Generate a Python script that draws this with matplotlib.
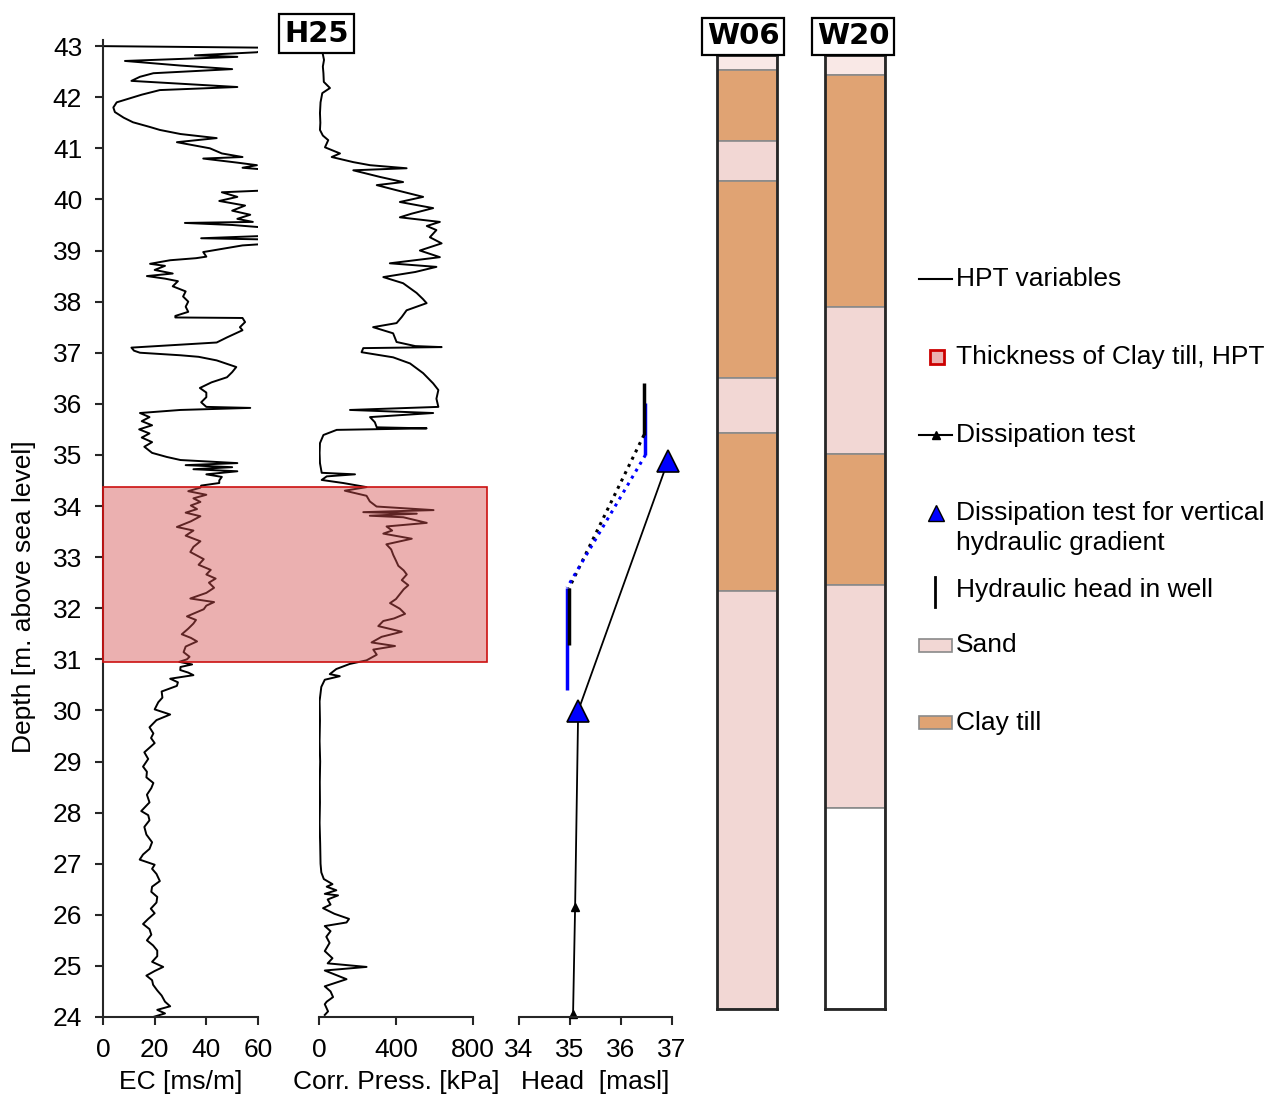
import matplotlib
matplotlib.use('Agg')
import matplotlib.pyplot as plt
from matplotlib.patches import Rectangle
import matplotlib.transforms as mtrans

plt.rcParams['font.family'] = ['Liberation Sans', 'DejaVu Sans']

# ---------------- data ----------------
ec_depth = [43.00, 42.97, 42.92, 42.88, 42.82, 42.79, 42.71, 42.62, 42.55, 42.47, 42.40, 42.32,
            42.20, 42.14, 42.05, 41.90, 41.80, 41.71, 41.60, 41.51, 41.42, 41.36, 41.28, 41.20,
            41.12, 41.00, 40.90, 40.83, 40.80, 40.72, 40.67, 40.62, 40.57, 40.45, 40.30, 40.18,
            40.14, 40.05, 39.97, 39.88, 39.78, 39.70, 39.62, 39.56, 39.54, 39.50, 39.46, 39.42,
            39.30, 39.24, 39.21, 39.14, 39.10, 38.97, 38.88, 38.85, 38.81, 38.74, 38.70, 38.62,
            38.55, 38.50, 38.45, 38.40, 38.30, 38.20, 38.10, 38.00, 37.90, 37.80, 37.72, 37.69,
            37.68, 37.60, 37.50, 37.44, 37.30, 37.20, 37.10, 37.04, 37.00, 36.95, 36.92, 36.85,
            36.72, 36.62, 36.52, 36.42, 36.31, 36.22, 36.13, 36.03, 35.94, 35.92, 35.88, 35.82,
            35.74, 35.66, 35.58, 35.50, 35.42, 35.34, 35.25, 35.16, 35.08, 35.04, 34.96, 34.90,
            34.84, 34.80, 34.76, 34.72, 34.68, 34.62, 34.57, 34.50, 34.45, 34.40, 34.36, 34.29,
            34.22, 34.15, 34.08, 34.01, 33.94, 33.87, 33.80, 33.70, 33.59, 33.52, 33.42, 33.31,
            33.20, 33.10, 32.96, 32.85, 32.75, 32.66, 32.58, 32.50, 32.40, 32.30, 32.19, 32.12,
            32.05, 31.98, 31.84, 31.77, 31.70, 31.60, 31.49, 31.42, 31.35, 31.25, 31.14, 31.05,
            31.00, 30.95, 30.90, 30.85, 30.79, 30.74, 30.69, 30.62, 30.55, 30.48, 30.37, 30.25,
            30.16, 30.02, 29.92, 29.81, 29.67, 29.55, 29.46, 29.36, 29.18, 29.05, 28.90, 28.80,
            28.69, 28.58, 28.48, 28.35, 28.20, 28.03, 27.95, 27.85, 27.72, 27.57, 27.42, 27.29,
            27.18, 27.08, 26.98, 26.90, 26.80, 26.66, 26.55, 26.45, 26.35, 26.24, 26.12, 26.03,
            25.92, 25.82, 25.72, 25.61, 25.50, 25.40, 25.30, 25.19, 25.08, 24.98, 24.90, 24.81,
            24.72, 24.63, 24.52, 24.42, 24.30, 24.21, 24.14, 24.07, 24.00]
ec_value = [0.0, 62.0, 62.0, 59.6, 35.6, 52.0, 8.5, 30.0, 50.0, 19.5, 14.3, 11.0,
            52.0, 22.0, 15.0, 5.3, 4.0, 4.6, 8.0, 11.6, 18.0, 22.0, 30.0, 44.0,
            28.6, 41.4, 46.0, 54.0, 38.8, 52.0, 59.6, 54.0, 66.0, 70.0, 68.0, 65.0,
            46.0, 52.0, 45.0, 55.0, 50.0, 57.0, 52.0, 58.0, 31.7, 50.0, 60.0, 70.0,
            70.0, 38.0, 70.0, 66.0, 54.0, 38.8, 40.0, 36.0, 26.0, 18.2, 24.0, 20.0,
            27.0, 17.0, 24.0, 29.0, 27.0, 32.0, 31.0, 33.0, 32.0, 33.0, 28.0, 28.0,
            54.0, 55.0, 53.0, 54.0, 48.0, 44.0, 11.0, 12.0, 14.3, 30.0, 37.0, 44.0,
            51.6, 50.0, 48.0, 42.0, 37.5, 40.0, 40.0, 38.0, 40.0, 57.0, 30.0, 14.3,
            18.0, 15.0, 19.0, 14.0, 18.0, 15.0, 19.0, 16.0, 18.0, 19.0, 24.7, 30.0,
            52.0, 32.0, 50.0, 35.0, 52.0, 40.0, 46.0, 45.0, 45.0, 38.0, 37.7, 33.0,
            40.0, 35.0, 37.7, 34.0, 36.4, 32.0, 37.7, 34.0, 28.6, 35.0, 32.0, 37.7,
            35.0, 33.8, 39.0, 37.0, 41.7, 40.0, 43.6, 41.0, 43.0, 40.0, 33.8, 43.0,
            40.0, 39.0, 32.5, 36.0, 35.0, 33.0, 30.5, 34.0, 36.4, 32.0, 31.2, 33.5,
            32.5, 29.5, 34.5, 30.0, 29.9, 33.0, 35.0, 26.0, 29.0, 28.6, 22.7, 23.0,
            21.4, 20.0, 26.0, 20.7, 18.0, 19.5, 18.6, 20.0, 16.0, 17.5, 15.5, 17.0,
            16.8, 19.5, 18.7, 17.0, 18.0, 14.8, 17.5, 18.0, 16.0, 16.8, 19.0, 18.0,
            15.5, 14.2, 20.0, 19.0, 20.7, 22.0, 19.0, 18.7, 21.0, 20.7, 18.5, 20.0,
            17.5, 15.5, 18.0, 18.7, 17.0, 19.4, 21.0, 21.0, 19.0, 23.3, 20.0, 16.8,
            19.0, 19.4, 21.0, 22.7, 24.0, 26.0, 21.0, 24.0, 19.4]

pr_depth = [42.86, 42.73, 42.60, 42.47, 42.30, 42.18, 42.08, 41.90, 41.69, 41.50, 41.36, 41.25,
            41.16, 41.02, 40.90, 40.83, 40.73, 40.67, 40.61, 40.57, 40.44, 40.34, 40.28, 40.18,
            40.05, 39.95, 39.83, 39.72, 39.65, 39.56, 39.48, 39.40, 39.26, 39.14, 39.00, 38.87,
            38.75, 38.68, 38.58, 38.48, 38.36, 38.17, 38.05, 37.97, 37.83, 37.70, 37.58, 37.50,
            37.38, 37.21, 37.13, 37.11, 37.09, 37.01, 36.91, 36.79, 36.60, 36.40, 36.27, 36.10,
            35.94, 35.88, 35.82, 35.74, 35.64, 35.54, 35.52, 35.49, 35.39, 35.23, 35.04, 34.84,
            34.65, 34.62, 34.58, 34.51, 34.45, 34.37, 34.30, 34.20, 34.09, 33.99, 33.92, 33.88,
            33.85, 33.81, 33.78, 33.67, 33.60, 33.52, 33.46, 33.36, 33.25, 33.15, 33.04, 32.93,
            32.83, 32.74, 32.66, 32.55, 32.45, 32.37, 32.28, 32.18, 32.10, 31.99, 31.89, 31.80,
            31.75, 31.65, 31.54, 31.44, 31.33, 31.26, 31.19, 31.09, 30.98, 30.91, 30.81, 30.71,
            30.67, 30.60, 30.46, 30.18, 29.80, 29.40, 29.00, 28.60, 28.20, 27.80, 27.40, 27.00,
            26.83, 26.70, 26.60, 26.55, 26.48, 26.41, 26.38, 26.30, 26.20, 26.13, 26.02, 25.92,
            25.85, 25.78, 25.68, 25.57, 25.45, 25.29, 25.15, 25.05, 24.98, 24.91, 24.82, 24.74,
            24.60, 24.50, 24.39, 24.30, 24.25, 24.11, 24.04]
pr_value = [19, 26, 20, 23, 25, 57, 17, 8, 5, 7, 5, 20,
            48, 31, 109, 66, 178, 265, 455, 178, 317, 437, 300, 403,
            541, 420, 593, 480, 420, 628, 560, 610, 576, 637, 524, 628,
            368, 610, 500, 334, 437, 507, 540, 559, 455, 430, 403, 281,
            385, 403, 500, 637, 230, 221, 385, 473, 541, 593, 620, 610,
            620, 161, 593, 265, 290, 300, 559, 92, 23, 5, 3, 5,
            14, 187, 40, 14, 126, 247, 134, 247, 264, 299, 595, 230,
            508, 264, 438, 560, 351, 380, 334, 482, 350, 375, 386, 400,
            412, 440, 456, 430, 464, 440, 421, 400, 369, 420, 447, 390,
            334, 308, 430, 325, 273, 395, 282, 300, 247, 160, 90, 56,
            108, 30, 12, 3, 5, 3, 6, 4, 5, 3, 6, 8,
            12, 25, 70, 40, 90, 30, 99, 45, 60, 21, 80, 156,
            143, 30, 60, 38, 55, 30, 70, 45, 247, 30, 90, 143,
            30, 60, 73, 40, 30, 47, 30]

diss_head = [35.06, 35.10, 35.16, 36.92]
diss_depth = [24.06, 26.15, 29.99, 34.88]
well_head_black = [34.98, 36.45]
well_top_black = [32.39, 36.40]
well_bot_black = [31.28, 35.39]
well_head_blue = [34.94, 36.48]
well_top_blue = [32.40, 36.01]
well_bot_blue = [30.40, 35.00]

clay_hpt_top = 34.37
clay_hpt_bottom = 30.95

w06_bounds = [42.82, 42.53, 41.14, 40.36, 36.50, 35.43, 32.33, 24.15]
w06_types = ['top', 'clay', 'sand', 'clay', 'sand', 'clay', 'sand']
w20_bounds = [42.82, 42.43, 37.89, 35.02, 32.45, 28.09, 24.15]
w20_types = ['top', 'clay', 'sand', 'clay', 'sand', 'none']

ec_ticks = [0, 20, 40, 60]
pr_ticks = [0, 400, 800]
hd_ticks = [34, 35, 36, 37]
depth_ticks = list(range(24, 44))

layer_colors = {'top': '#f9e8e6', 'clay': '#e0a373', 'sand': '#f2d7d4', 'none': 'white'}
box_face = (211/255, 80/255, 80/255, 0.45)

# ---------------- figure ----------------
W, H = 1284, 1102
fig = plt.figure(figsize=(W / 100, H / 100), dpi=100)
FS = 19


def rect(x0, x1, ytop=40, ybot=1017):
    return [x0 / W, 1 - ybot / H, (x1 - x0) / W, (ybot - ytop) / H]


ax_ec = fig.add_axes(rect(103, 258))
ax_pr = fig.add_axes(rect(319, 473))
ax_hd = fig.add_axes(rect(519, 672))

for ax in (ax_ec, ax_pr, ax_hd):
    ax.set_ylim(24, 43.12)
    ax.set_facecolor('none')
    for s in ('top', 'right'):
        ax.spines[s].set_visible(False)
    for s in ('left', 'bottom'):
        ax.spines[s].set_linewidth(1.5)
        ax.spines[s].set_color('#262626')
    ax.tick_params(axis='both', direction='out', length=6, width=1.5, color='#262626',
                   labelsize=FS, pad=9)
for ax in (ax_pr, ax_hd):
    ax.spines['left'].set_visible(False)
    ax.tick_params(axis='y', left=False, labelleft=False)

ax_ec.plot(ec_value, ec_depth, color='black', lw=1.4)
ax_ec.set_xlim(0, 60)
ax_ec.set_xticks(ec_ticks)
ax_ec.set_yticks(depth_ticks)
ax_ec.set_xlabel('EC [ms/m]', fontsize=FS, labelpad=6)
ax_ec.set_ylabel('Depth [m. above sea level]', fontsize=FS)
ax_ec.yaxis.set_label_coords(-0.43, 0.43)

ax_pr.plot(pr_value, pr_depth, color='black', lw=1.4)
ax_pr.set_xlim(0, 800)
ax_pr.set_xticks(pr_ticks)
ax_pr.set_xlabel('Corr. Press. [kPa]', fontsize=FS, labelpad=6)

# head panel
ax_hd.set_xlim(34, 37)
ax_hd.set_xticks(hd_ticks)
ax_hd.set_xlabel('Head  [masl]', fontsize=FS, labelpad=6)
ax_hd.plot(diss_head, diss_depth, color='black', lw=1.3, clip_on=False)
ax_hd.plot(diss_head[:2], diss_depth[:2], ls='none', marker='^', ms=6, color='black', clip_on=False)
ax_hd.plot(diss_head[2:], diss_depth[2:], ls='none', marker='^', ms=16, mfc='#0000ff',
           mec='black', mew=1.2, clip_on=False, zorder=4)
ax_hd.vlines(well_head_blue, well_bot_blue, well_top_blue, color='#0000ff', lw=2.5)
ax_hd.vlines(well_head_black, well_bot_black, well_top_black, color='black', lw=2.5)
ax_hd.plot([well_head_black[1], well_head_black[0]], [well_bot_black[1], well_top_black[0]],
           color='black', ls=':', lw=2.2)
ax_hd.plot([well_head_blue[1], well_head_blue[0]], [well_bot_blue[1], well_top_blue[0]],
           color='#0000ff', ls=':', lw=2.2)

# clay till thickness box spanning EC and pressure panels
trans = mtrans.blended_transform_factory(fig.transFigure, ax_ec.transData)
box = Rectangle((103 / W, clay_hpt_bottom), (487 - 103) / W, clay_hpt_top - clay_hpt_bottom,
                transform=trans, facecolor=box_face, edgecolor='#cc1111', lw=1.2, zorder=5)
fig.add_artist(box)


def draw_log(x0, x1, bounds, types, name, xc):
    ax = fig.add_axes(rect(x0, x1, 55, 1009))
    ax.set_xlim(0, 1)
    ax.set_ylim(bounds[-1], bounds[0])
    for i, t in enumerate(types):
        top, bot = bounds[i], bounds[i + 1]
        ax.bar(0.5, top - bot, bottom=bot, width=1, color=layer_colors[t],
               edgecolor='#8a8a8a', lw=1.2)
    ax.set_xticks([])
    ax.set_yticks([])
    for s in ax.spines.values():
        s.set_linewidth(2)
        s.set_color('#262626')
    fig.text(xc / W, 1 - 36.5 / H, name, ha='center', va='center', fontsize=21,
             fontweight='bold', family='DejaVu Sans',
             bbox=dict(boxstyle='square,pad=0.16', fc='white', ec='black', lw=1.6))
    return ax


draw_log(717, 777, w06_bounds, w06_types, 'W06', 743)
draw_log(825, 885, w20_bounds, w20_types, 'W20', 853)

fig.text(316.5 / W, 1 - 33.5 / H, 'H25', ha='center', va='center', fontsize=21,
         fontweight='bold', family='DejaVu Sans', zorder=6,
         bbox=dict(boxstyle='square,pad=0.18', fc='white', ec='black', lw=1.6))

# ---------------- legend (manual) ----------------
lax = fig.add_axes([0, 0, 1, 1])
lax.set_xlim(0, W)
lax.set_ylim(H, 0)
lax.axis('off')
lax.plot([919, 952], [279, 279], color='black', lw=1.5)
lax.add_patch(Rectangle((930, 350), 14, 14, facecolor='#ebb0b0', edgecolor='#cc0000', lw=2))
lax.plot([919, 952], [435, 435], color='black', lw=1.5)
lax.plot([936], [435], marker='^', ms=6, color='black')
lax.plot([936], [513], marker='^', ms=12, mfc='#0000ff', mec='black', mew=1)
lax.plot([935, 935], [577, 607], color='black', lw=2)
lax.add_patch(Rectangle((919, 639), 33, 13, facecolor=layer_colors['sand'], edgecolor='#8a8a8a', lw=1.2))
lax.add_patch(Rectangle((919, 716), 33, 13, facecolor=layer_colors['clay'], edgecolor='#8a8a8a', lw=1.2))
for y, s in [(279, 'HPT variables'), (357, 'Thickness of Clay till, HPT'), (435, 'Dissipation test'),
             (590, 'Hydraulic head in well'), (645, 'Sand'), (723, 'Clay till')]:
    lax.text(956, y, s, fontsize=FS, va='center', ha='left')
lax.text(956, 528, 'Dissipation test for vertical\nhydraulic gradient', fontsize=FS,
         va='center', ha='left', linespacing=1.35)

fig.savefig('out.png', dpi=100)
